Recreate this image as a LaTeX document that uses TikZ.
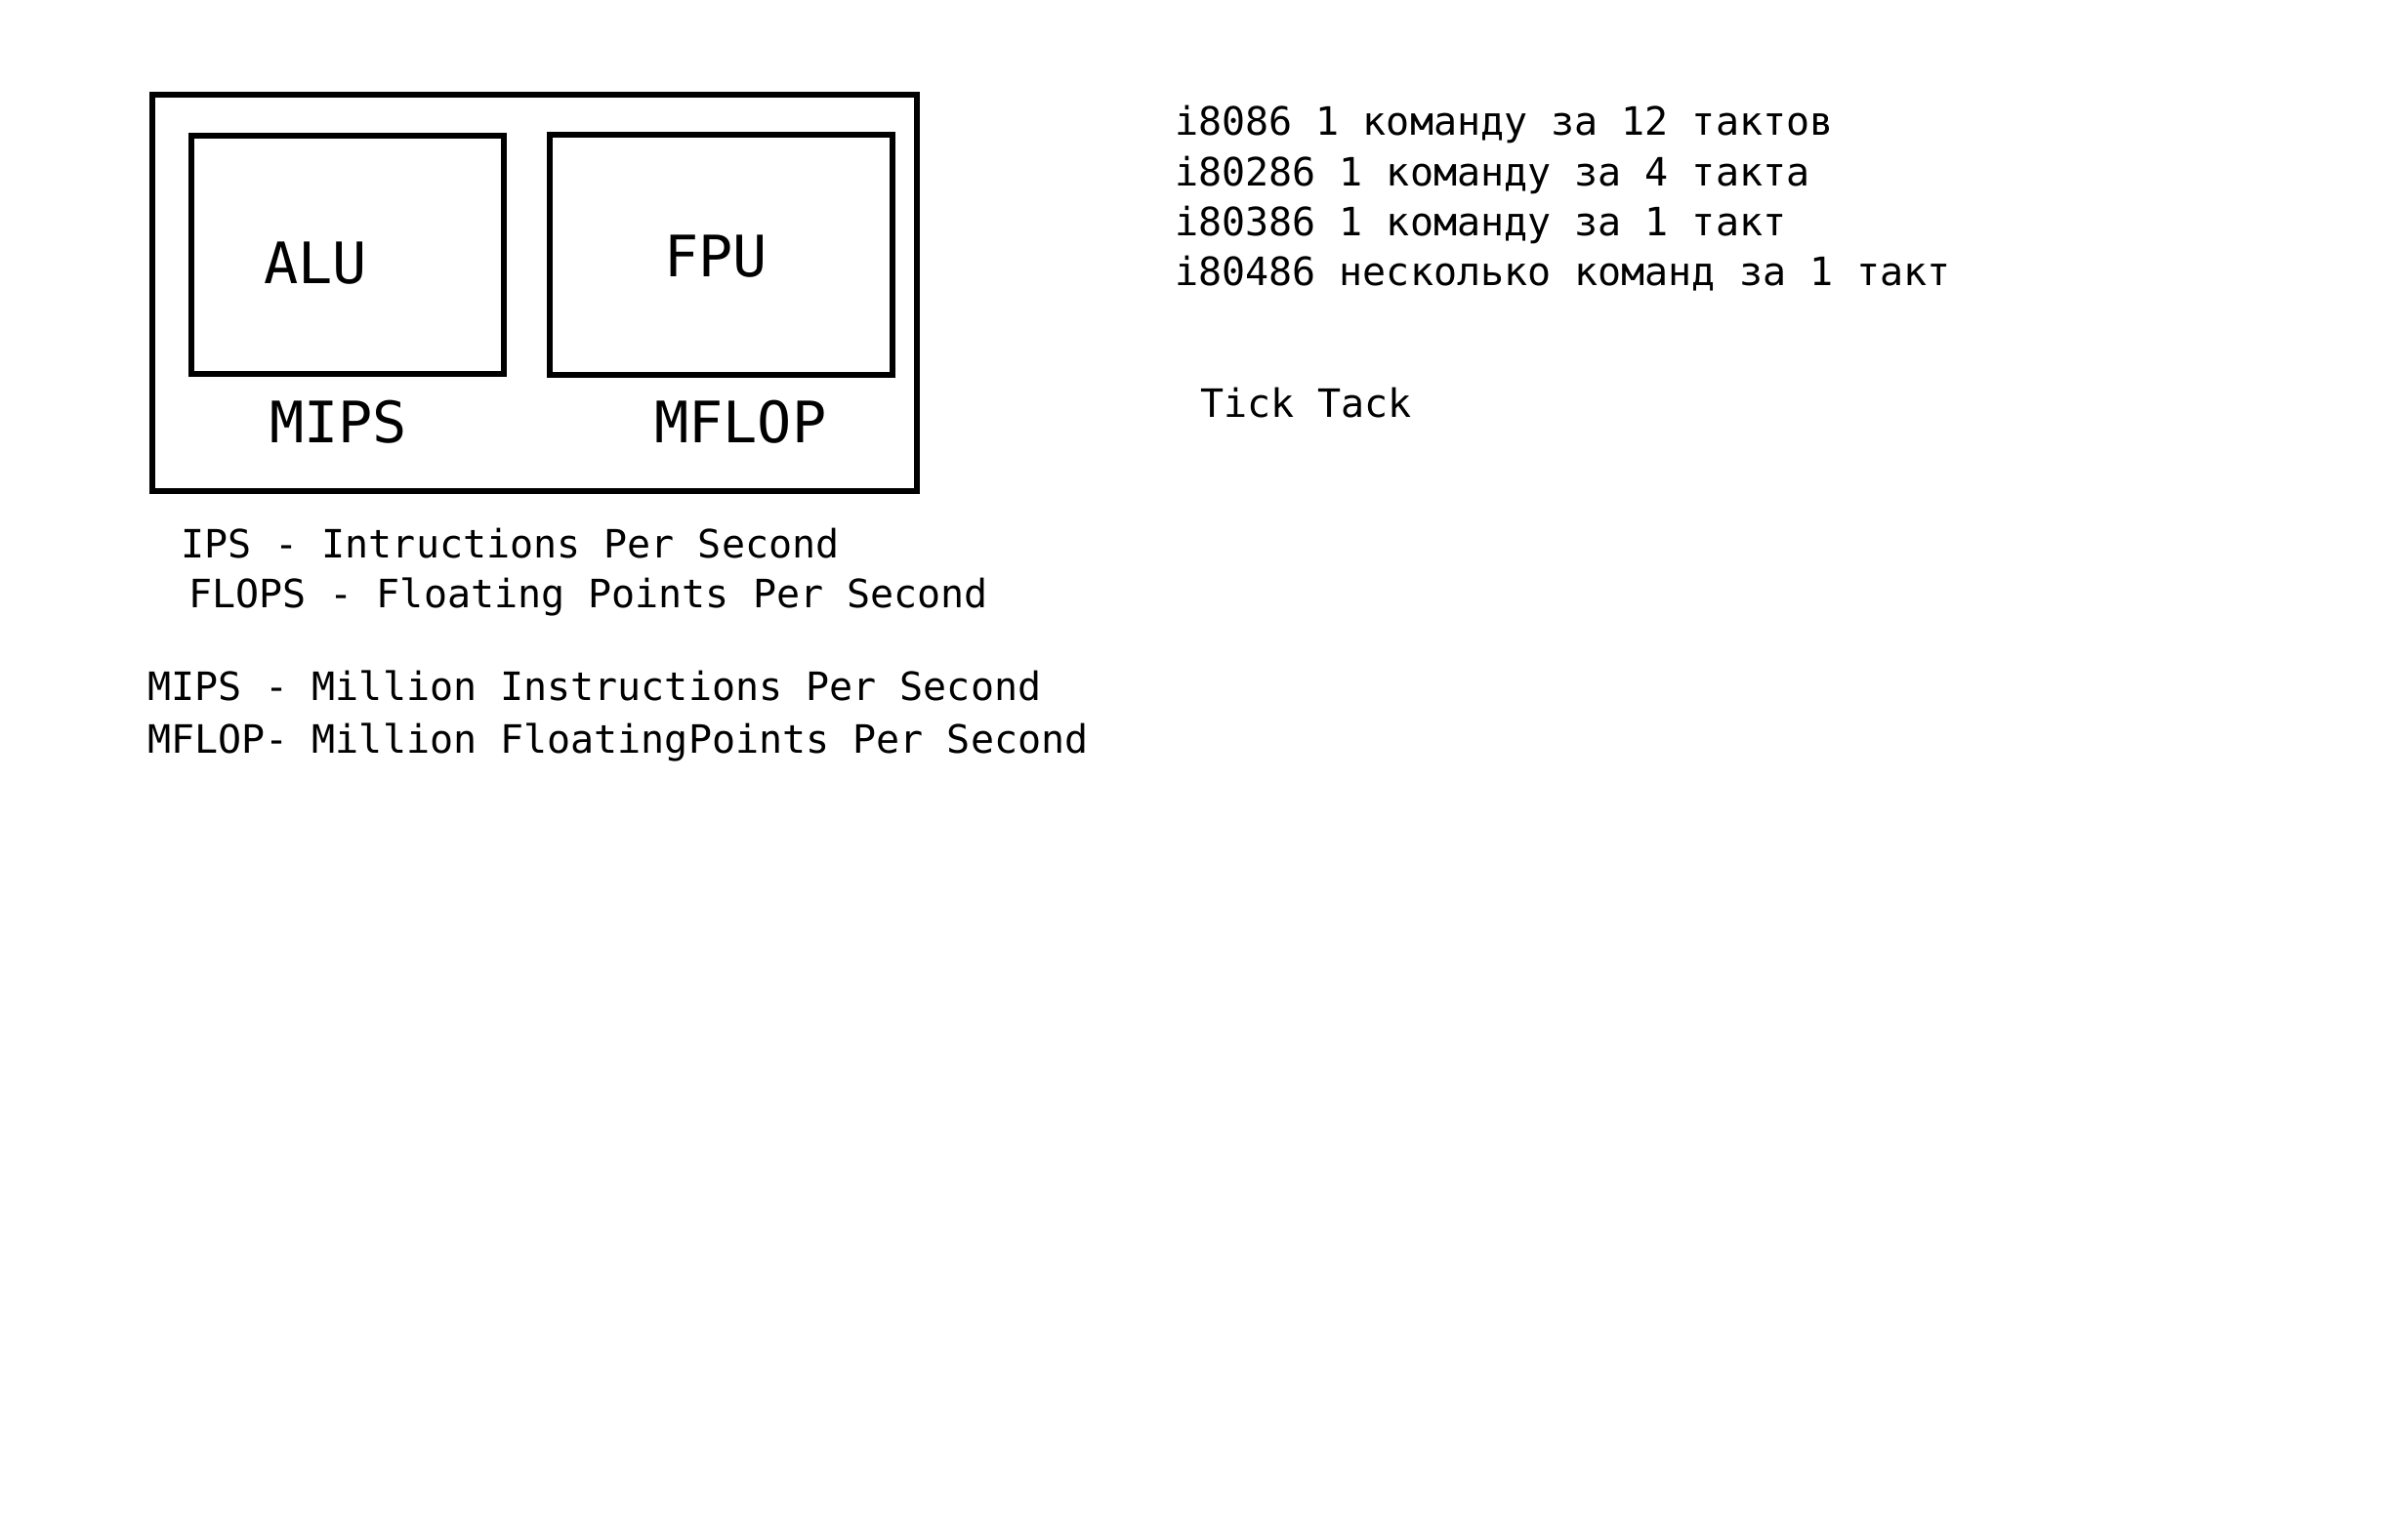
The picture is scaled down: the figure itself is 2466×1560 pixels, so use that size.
\documentclass[tikz,border=0pt]{standalone}
\usepackage{fontspec}
\setmonofont{DejaVu Sans Mono}
\begin{document}
\begin{tikzpicture}[x=1pt,y=-1pt,
  box/.style={draw=black,line width=5.5pt,rectangle,inner sep=0pt},
  big/.style={inner sep=0pt,anchor=base west,font=\ttfamily\fontsize{58.5}{68}\selectfont},
  small/.style={inner sep=0pt,anchor=base west,font=\ttfamily\fontsize{40}{48}\selectfont}]
\useasboundingbox[fill=white] (0,0) rectangle (2466,1560);
% boxes
\node[box,minimum width=783pt,minimum height=406pt] (outer) at (547.5,300) {};
\node[box,minimum width=320pt,minimum height=244pt] (alu) at (356,261) {};
\node[box,minimum width=351pt,minimum height=246pt] (fpu) at (738.5,261) {};
% labels in boxes
\node[big] (alut) at (270,290) {ALU};
\node[big] (fput) at (680,283) {FPU};
\node[big] (mips) at (276,453) {MIPS};
\node[big] (mflop) at (670,453) {MFLOP};
% definitions
\node[small] (ips) at (185,571) {IPS - Intructions Per Second};
\node[small] (flops) at (193,622) {FLOPS - Floating Points Per Second};
\node[small] (mipsd) at (151,717) {MIPS - Million Instructions Per Second};
\node[small] (mflopd) at (151,771) {MFLOP- Million FloatingPoints Per Second};
% right column
\node[small] (l1) at (1203,139) {i8086 1 команду за 12 тактов};
\node[small] (l2) at (1203,190) {i80286 1 команду за 4 такта};
\node[small] (l3) at (1203,241) {i80386 1 команду за 1 такт};
\node[small] (l4) at (1203,292) {i80486 несколько команд за 1 такт};
\node[small] (tick) at (1229,427) {Tick Tack};
\end{tikzpicture}
\end{document}
